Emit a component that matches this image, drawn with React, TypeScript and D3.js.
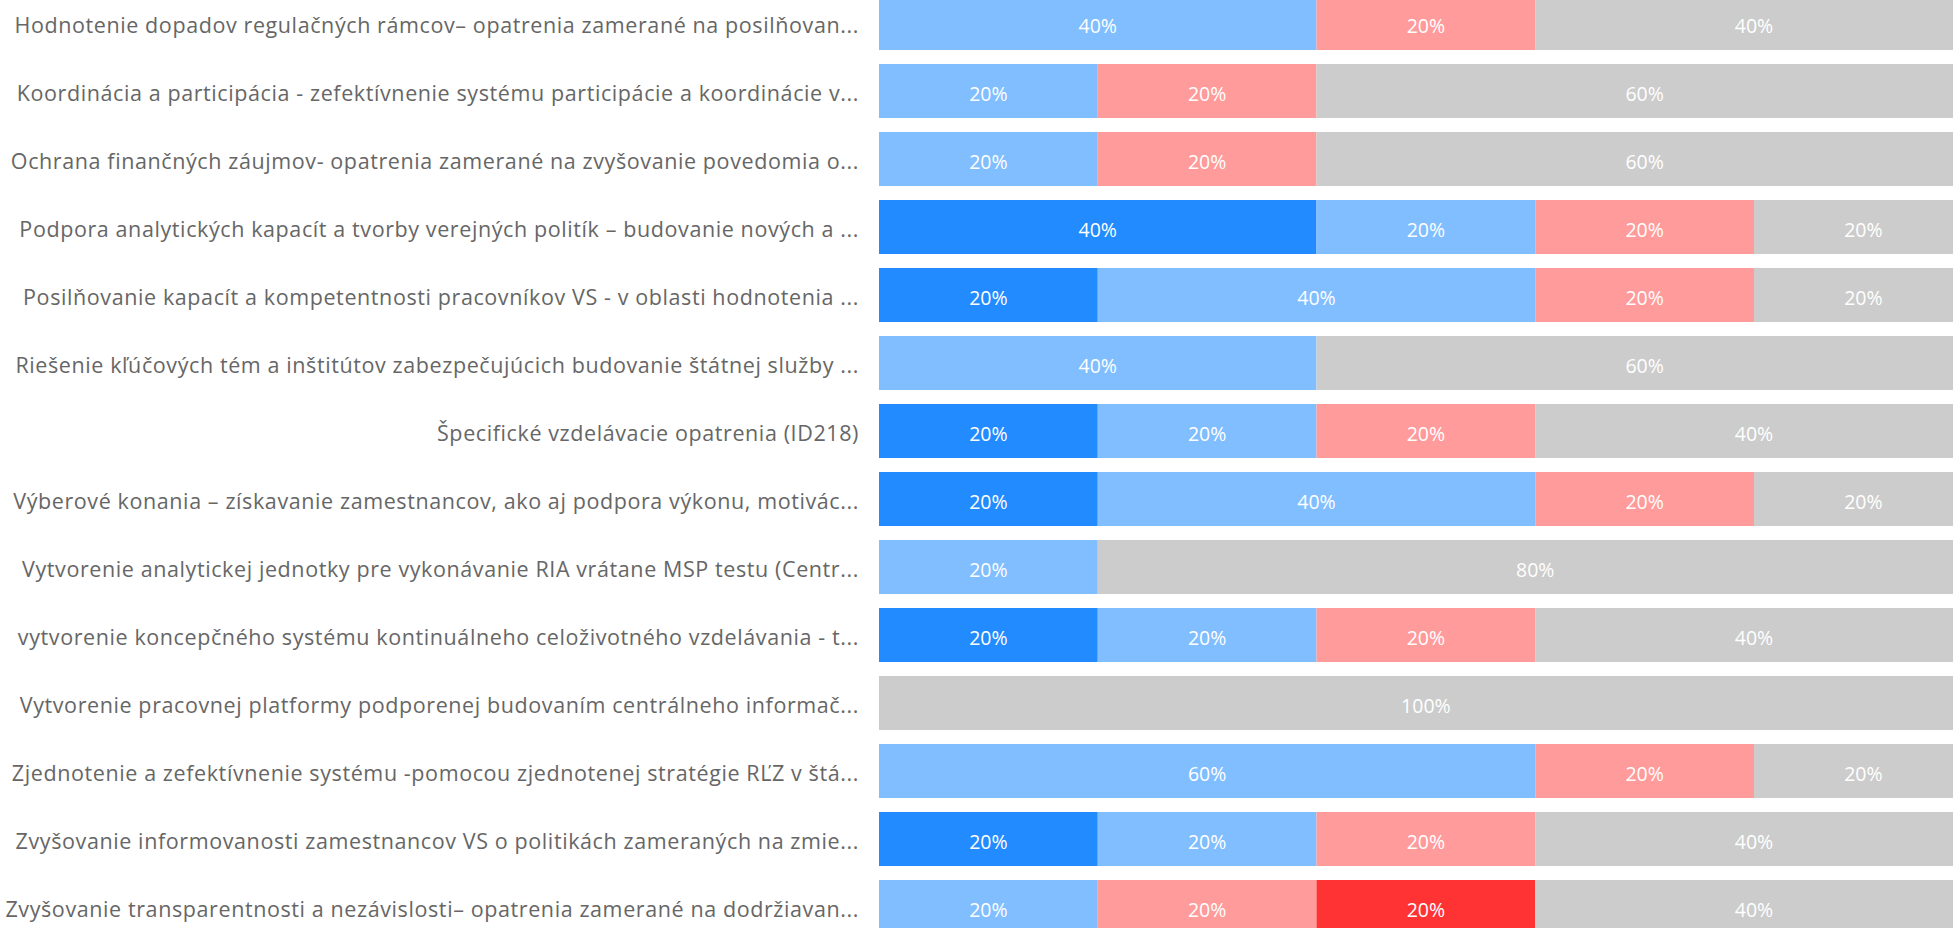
import React from "react";
import * as d3 from "d3";

// row labels (already truncated like in the original visual)
const categories = [
  "Hodnotenie dopadov regulačných rámcov– opatrenia zamerané na posilňovan...",
  "Koordinácia a participácia - zefektívnenie systému participácie a koordinácie v...",
  "Ochrana finančných záujmov- opatrenia zamerané na zvyšovanie povedomia o...",
  "Podpora analytických kapacít a tvorby verejných politík – budovanie nových a ...",
  "Posilňovanie kapacít a kompetentnosti pracovníkov VS - v oblasti hodnotenia ...",
  "Riešenie kľúčových tém a inštitútov zabezpečujúcich budovanie štátnej služby ...",
  "Špecifické vzdelávacie opatrenia (ID218)",
  "Výberové konania – získavanie zamestnancov, ako aj podpora výkonu, motivác...",
  "Vytvorenie analytickej jednotky pre vykonávanie RIA vrátane MSP testu (Centr...",
  "vytvorenie koncepčného systému kontinuálneho celoživotného vzdelávania - t...",
  "Vytvorenie pracovnej platformy podporenej budovaním centrálneho informač...",
  "Zjednotenie a zefektívnenie systému -pomocou zjednotenej stratégie RĽZ v štá...",
  "Zvyšovanie informovanosti zamestnancov VS o politikách zameraných na zmie...",
  "Zvyšovanie transparentnosti a nezávislosti– opatrenia zamerané na dodržiavan...",
];

// series values, percent per row
const darkBlue = [0, 0, 0, 40, 20, 0, 20, 20, 0, 20, 0, 0, 20, 0];
const lightBlue = [40, 20, 20, 20, 40, 40, 20, 40, 20, 20, 0, 60, 20, 20];
const pink = [20, 20, 20, 20, 20, 0, 20, 20, 0, 20, 0, 20, 20, 20];
const red = [0, 0, 0, 0, 0, 0, 0, 0, 0, 0, 0, 0, 0, 20];
const grey = [40, 60, 60, 20, 20, 60, 40, 20, 80, 40, 100, 20, 40, 40];

const seriesKeys = ["darkBlue", "lightBlue", "pink", "red", "grey"];
const seriesColors = ["#218BFF", "#80BEFF", "#FF9B9B", "#FF3333", "#CCCCCC"];

const W = 1953;
const H = 928;
const FONT = "'Open Sans', 'Noto Sans', sans-serif";

const rows = categories.map((c, i) => ({
  category: c,
  darkBlue: darkBlue[i],
  lightBlue: lightBlue[i],
  pink: pink[i],
  red: red[i],
  grey: grey[i],
}));

export default function App() {
  const x = d3.scaleLinear().domain([0, 100]).range([879, 1972.75]);
  const y = d3
    .scaleBand()
    .domain(categories)
    .range([-4, 934])
    .paddingInner(0.206)
    .paddingOuter(0);

  const stacked = d3.stack().keys(seriesKeys)(rows as any);
  const color = d3.scaleOrdinal<string>().domain(seriesKeys).range(seriesColors);
  const mid = (c: string) => (y(c) as number) + y.bandwidth() / 2;

  return (
    <div style={{ position: "fixed", left: 0, top: 0, width: W, height: H, overflow: "hidden", background: "#fff" }}>
      <svg width={W} height={H} style={{ display: "block" }}>
        {stacked.map((s) => (
          <g key={s.key} fill={color(s.key)}>
            {s.map((d, i) => {
              const w = x(d[1]) - x(d[0]);
              if (w <= 0) return null;
              return (
                <rect key={i} x={x(d[0])} y={y(categories[i])} width={w} height={y.bandwidth()} />
              );
            })}
          </g>
        ))}
        {stacked.map((s) => (
          <g key={s.key + "-lbl"} fill="#ffffff" fontFamily={FONT} fontSize={19.5} textAnchor="middle">
            {s.map((d, i) => {
              const v = d[1] - d[0];
              if (v <= 0) return null;
              return (
                <text key={i} x={(x(d[0]) + x(d[1])) / 2} y={mid(categories[i]) + 3} dy="0.35em">
                  {v}%
                </text>
              );
            })}
          </g>
        ))}
        <g fill="#666666" fontFamily={FONT} fontSize={21.5} letterSpacing={0.6} textAnchor="end">
          {categories.map((c) => (
            <text key={c} x={859} y={mid(c) + 2.5} dy="0.35em">
              {c}
            </text>
          ))}
        </g>
      </svg>
    </div>
  );
}
